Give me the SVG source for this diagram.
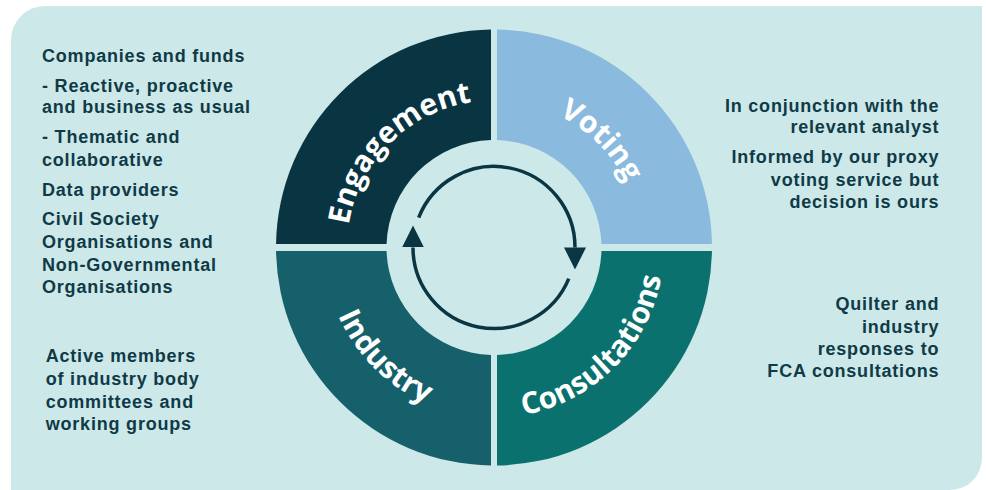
<svg xmlns="http://www.w3.org/2000/svg" width="986" height="490" viewBox="0 0 986 490">
<style>
.note{font-family:"Liberation Sans",Arial,sans-serif;font-weight:700;font-size:18px;letter-spacing:0.8px;fill:#0f3a47}
.r{text-anchor:end}
.seg{font-family:"Open Sans","Liberation Sans",sans-serif;font-weight:700;font-size:30px;fill:#ffffff}
.flow{fill:none;stroke:#0a3542;stroke-width:3.5}
</style>
<defs>
<marker id="ah" viewBox="0 -11 22 22" markerWidth="22" markerHeight="22" refX="0" refY="0" markerUnits="userSpaceOnUse" orient="auto">
<path d="M0,-11 L22,0 L0,11 Z" fill="#0a3542"/>
</marker>
<path id="pEng" d="M352,285.5 A147,147 0 0 1 532,105.5"/>
<path id="pVot" d="M455.96,105.5 A147,147 0 0 1 636,285.5"/>
<path id="pInd" d="M329.8,203.5 A170,170 0 0 0 538,411.7"/>
<path id="pCon" d="M450,411.7 A170,170 0 0 0 658.2,203.5"/>
</defs>
<path d="M11,490 V40 A34,34 0 0 1 45,6 H982 V458 A32,32 0 0 1 950,490 Z" fill="#cde8e8"/>
<g id="engagement">
<path d="M276.03,244 A218,218 0 0 1 491,29.52 L491,140.04 A107.5,107.5 0 0 0 386.56,244 Z" fill="#093542"/>
<text class="seg"><textPath href="#pEng" startOffset="50%" text-anchor="middle">Engagement</textPath></text>
</g>
<g id="voting">
<path d="M497,29.52 A218,218 0 0 1 711.97,244 L601.44,244 A107.5,107.5 0 0 0 497,140.04 Z" fill="#8abade"/>
<text class="seg"><textPath href="#pVot" startOffset="50%" text-anchor="middle">Voting</textPath></text>
</g>
<g id="consultations">
<path d="M711.97,251 A218,218 0 0 1 497,465.48 L497,354.96 A107.5,107.5 0 0 0 601.44,251 Z" fill="#0b716e"/>
<text class="seg"><textPath href="#pCon" startOffset="50%" text-anchor="middle">Consultations</textPath></text>
</g>
<g id="industry">
<path d="M491,465.48 A218,218 0 0 1 276.03,251 L386.56,251 A107.5,107.5 0 0 0 491,354.96 Z" fill="#15606b"/>
<text class="seg"><textPath href="#pInd" startOffset="50%" text-anchor="middle">Industry</textPath></text>
</g>
<g id="connectors">
<path class="flow" d="M418.7,217.55 A81,81 0 0 1 575,247.5" marker-end="url(#ah)"/>
<path class="flow" d="M568.8,278.6 A81,81 0 0 1 413,247.5" marker-end="url(#ah)"/>
</g>
<g id="engagement-notes">
<text class="note" x="42" y="62.3">Companies and funds</text>
<text class="note" x="42" y="92.3">- Reactive, proactive</text>
<text class="note" x="42" y="113.3">and business as usual</text>
<text class="note" x="42" y="143.3">- Thematic and</text>
<text class="note" x="42" y="166">collaborative</text>
<text class="note" x="42" y="195.7">Data providers</text>
<text class="note" x="42" y="225">Civil Society</text>
<text class="note" x="42" y="248.3">Organisations and</text>
<text class="note" x="42" y="270.7">Non-Governmental</text>
<text class="note" x="42" y="293.3">Organisations</text>
</g>
<g id="industry-notes">
<text class="note" x="45.7" y="362.3">Active members</text>
<text class="note" x="45.7" y="385">of industry body</text>
<text class="note" x="45.7" y="407.7">committees and</text>
<text class="note" x="45.7" y="430">working groups</text>
</g>
<g id="voting-notes">
<text class="note r" x="939.3" y="112.3">In conjunction with the</text>
<text class="note r" x="939.3" y="133.3">relevant analyst</text>
<text class="note r" x="939.3" y="163.3">Informed by our proxy</text>
<text class="note r" x="939.3" y="186">voting service but</text>
<text class="note r" x="939.3" y="208.3">decision is ours</text>
</g>
<g id="consultations-notes">
<text class="note r" x="939.3" y="310">Quilter and</text>
<text class="note r" x="939.3" y="332.7">industry</text>
<text class="note r" x="939.3" y="355">responses to</text>
<text class="note r" x="939.3" y="376.7">FCA consultations</text>
</g>
</svg>
